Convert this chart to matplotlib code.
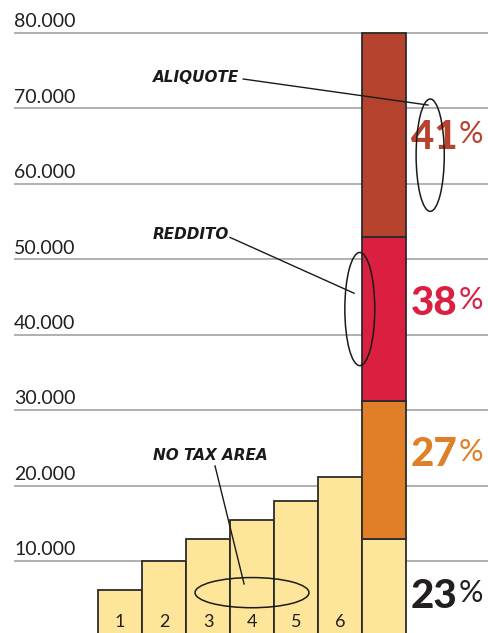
import matplotlib

matplotlib.use("Agg")
import matplotlib.pyplot as plt
from matplotlib.patches import Ellipse

# --- Data ---
categories = ["1", "2", "3", "4", "5", "6"]
bar_values = [6100, 10000, 12900, 15400, 17900, 21100]

# stacked bar: cumulative tops of the tax brackets
stack_tops = [12900, 31200, 52900, 80000]
stack_colors = ["#FDE59A", "#E07F27", "#DB1F40", "#B5432E"]
rate_labels = ["23", "27", "38", "41"]
rate_colors = ["#231F20", "#E07F27", "#DB1F40", "#B5432E"]
rate_y = [5300, 24100, 44200, 66200]

tick_values = [10000, 20000, 30000, 40000, 50000, 60000, 70000, 80000]
tick_labels = ["10.000", "20.000", "30.000", "40.000", "50.000", "60.000", "70.000", "80.000"]

# annotations: label, text pos, line start, line end, ellipse (cx, cy, w, h)
notes = [
    ("ALIQUOTE", (0.75, 74100), (2.80, 73900), (7.00, 70450), (7.05, 63800, 0.64, 14900)),
    ("REDDITO", (0.75, 53300), (2.50, 52900), (5.32, 45500), (5.45, 43400, 0.68, 15000)),
    ("NO TAX AREA", (0.75, 24000), (2.16, 22600), (2.82, 6950), (3.00, 5800, 2.59, 4000)),
]

YELLOW = "#FDE59A"
EDGE = "#2B2B2B"
GRID = "#A3A3A3"
INK = "#231F20"

fig = plt.figure(figsize=(4.88, 6.33), dpi=100)
ax = fig.add_axes([0, 0, 1, 1])
ax.set_xlim(-120 / 44, 368 / 44)
ax.set_ylim(450, 84375)
ax.axis("off")

# gridlines + labels
x_grid = (14 - 120) / 44
ax.hlines(tick_values, x_grid, 10, color=GRID, lw=1.2, zorder=1)
for v, lab in zip(tick_values, tick_labels):
    ax.text(x_grid, v + 350, lab, ha="left", va="bottom", fontsize=14,
            family="Lato", weight="normal", color=INK)

# income bars
xs = list(range(len(categories)))
ax.bar(xs, bar_values, width=1.0, color=YELLOW, edgecolor=EDGE, lw=1.3, zorder=2)
for x, lab in zip(xs, categories):
    ax.text(x, 1900, lab, ha="center", va="center", fontsize=13,
            family="Lato", weight="normal", color=INK, zorder=3)

# stacked bracket bar
x_stack = len(categories)
bottom = 0
for top, col in zip(stack_tops, stack_colors):
    ax.bar(x_stack, top - bottom, bottom=bottom, width=1.0, color=col,
           edgecolor=EDGE, lw=1.3, zorder=2)
    bottom = top

# rate labels: bold number + light percent sign
x_rate = (411 - 120) / 44
fig.canvas.draw()
renderer = fig.canvas.get_renderer()
for lab, col, y in zip(rate_labels, rate_colors, rate_y):
    t = ax.text(x_rate, y, lab, ha="left", va="center", fontsize=29,
                family="Lato", weight="black", color=col)
    bb = t.get_window_extent(renderer=renderer)
    x_end = ax.transData.inverted().transform((bb.x1 + 1, 0))[0]
    ax.text(x_end, y + 400, "%", ha="left", va="center", fontsize=22,
            family="Lato", weight="normal", color=col)

# annotations
for text, tpos, p0, p1, ell in notes:
    ax.text(tpos[0], tpos[1], text, ha="left", va="center", fontsize=11,
            family="DejaVu Sans", weight="bold", style="oblique", color="#1A1A1A", zorder=4)
    ax.plot([p0[0], p1[0]], [p0[1], p1[1]], color="#1A1A1A", lw=1.0, zorder=4)
    cx, cy, w, h = ell
    ax.add_patch(Ellipse((cx, cy), w, h, fill=False, edgecolor="#1A1A1A", lw=1.1, zorder=4))

fig.savefig("out.png", dpi=100)
plt.close(fig)
